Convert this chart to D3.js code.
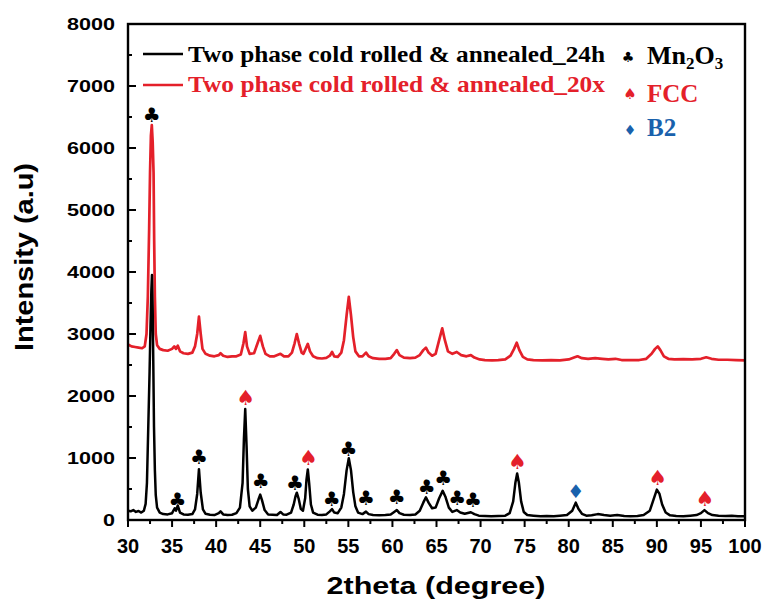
<!DOCTYPE html>
<html>
<head>
<meta charset="utf-8">
<script src="https://cdn.jsdelivr.net/npm/d3@7"></script>
<style>
  body { margin: 0; background: #fff; }
  svg { display: block; }
  .tick-y { font-family: "Liberation Sans", Arial, sans-serif; font-weight: bold; font-size: 17px; }
  .tick-x { font-family: "Liberation Sans", Arial, sans-serif; font-weight: bold; font-size: 20px; }
  .title { font-family: "Liberation Sans", Arial, sans-serif; font-weight: bold; }
  .leg { font-family: "Liberation Serif", "Times New Roman", serif; font-weight: bold; }
  .sym { font-family: "DejaVu Sans", sans-serif; }
</style>
</head>
<body>
<svg id="chart" width="765" height="608"></svg>
<script>
// XRD patterns, [2theta, intensity]
const pattern24h = [
  [30.0,150],[30.3,140],[30.6,160],[30.9,130],[31.2,145],[31.5,120],[31.8,150],[32.0,260],[32.15,600],[32.3,1500],
  [32.45,2400],[32.55,3100],[32.65,3700],[32.72,3950],[32.8,3400],[32.88,2400],[32.95,1500],[33.05,800],[33.15,400],[33.3,200],
  [33.6,120],[34.0,95],[34.5,90],[35.0,110],[35.3,190],[35.45,150],[35.65,230],[35.9,120],[36.3,90],[36.8,85],
  [37.3,95],[37.6,170],[37.85,420],[38.05,820],[38.25,440],[38.5,170],[38.8,100],[39.3,85],[39.8,80],[40.3,110],
  [40.5,140],[40.8,90],[41.3,80],[41.8,85],[42.3,110],[42.7,200],[43.0,600],[43.15,1300],[43.3,1790],[43.45,1200],
  [43.6,500],[43.8,220],[44.1,150],[44.5,200],[44.8,330],[45.0,410],[45.2,320],[45.5,160],[45.9,90],[46.4,85],
  [46.9,80],[47.3,130],[47.6,90],[48.0,85],[48.5,120],[48.8,250],[49.0,380],[49.15,440],[49.35,350],[49.6,180],
  [49.85,150],[50.1,350],[50.25,650],[50.4,815],[50.55,600],[50.75,250],[51.0,120],[51.5,85],[52.0,80],[52.5,90],
  [52.9,140],[53.15,175],[53.4,120],[53.8,110],[54.2,200],[54.5,420],[54.8,800],[55.05,995],[55.3,800],[55.55,450],
  [55.8,220],[56.1,120],[56.6,95],[57.0,135],[57.3,95],[57.8,80],[58.5,75],[59.2,80],[59.8,90],[60.2,130],
  [60.5,160],[60.8,110],[61.3,85],[62.0,80],[62.6,90],[63.1,150],[63.5,280],[63.8,366],[64.1,280],[64.5,190],
  [64.9,200],[65.3,350],[65.7,470],[66.0,380],[66.4,200],[66.8,130],[67.3,160],[67.7,120],[68.2,100],[68.9,125],
  [69.3,95],[69.8,70],[70.5,65],[71.2,60],[72.0,65],[72.8,70],[73.3,110],[73.7,300],[73.95,600],[74.15,750],
  [74.35,600],[74.6,300],[74.9,130],[75.3,80],[76.0,70],[76.8,60],[77.5,65],[78.3,60],[79.0,70],[79.8,80],
  [80.4,150],[80.8,280],[81.1,180],[81.5,100],[82.0,70],[82.6,75],[83.3,95],[84.0,80],[84.7,70],[85.5,80],
  [86.3,65],[87.0,60],[87.8,65],[88.5,80],[89.2,150],[89.6,320],[90.0,490],[90.3,420],[90.6,250],[91.0,120],
  [91.5,75],[92.2,65],[93.0,60],[93.8,70],[94.5,80],[95.0,110],[95.4,160],[95.8,110],[96.3,80],[97.0,70],
  [97.8,65],[98.5,70],[99.2,60],[100.0,60]
];

const pattern20x = [
  [30.0,2830],[30.4,2800],[30.8,2790],[31.2,2780],[31.6,2770],[31.9,2800],[32.1,3000],[32.25,3600],[32.4,4700],[32.5,5600],
  [32.6,6200],[32.7,6370],[32.8,6100],[32.9,5600],[32.97,4500],[33.05,3600],[33.15,3000],[33.3,2820],[33.6,2760],[34.0,2740],
  [34.5,2730],[35.0,2760],[35.25,2800],[35.45,2760],[35.65,2810],[35.9,2720],[36.3,2690],[36.8,2680],[37.3,2700],[37.6,2800],
  [37.85,3000],[38.05,3280],[38.25,3000],[38.45,2760],[38.8,2680],[39.3,2650],[39.8,2640],[40.3,2660],[40.5,2690],[40.8,2650],
  [41.3,2630],[41.8,2640],[42.3,2640],[42.8,2670],[43.1,2850],[43.3,3030],[43.5,2800],[43.8,2680],[44.3,2690],[44.7,2850],
  [45.0,2970],[45.3,2800],[45.6,2680],[46.1,2640],[46.6,2640],[47.3,2680],[47.7,2640],[48.2,2640],[48.6,2700],[48.9,2850],
  [49.15,3000],[49.4,2850],[49.7,2700],[49.9,2680],[50.15,2760],[50.4,2840],[50.65,2720],[51.0,2640],[51.5,2610],[52.0,2605],
  [52.5,2615],[52.9,2650],[53.15,2710],[53.4,2640],[53.8,2630],[54.2,2700],[54.5,2900],[54.8,3300],[55.05,3600],[55.3,3300],
  [55.55,2950],[55.8,2720],[56.2,2640],[56.6,2640],[57.0,2700],[57.3,2640],[57.8,2610],[58.5,2600],[59.2,2600],[59.8,2610],
  [60.2,2680],[60.5,2740],[60.8,2660],[61.3,2620],[62.0,2610],[62.6,2620],[63.1,2660],[63.5,2740],[63.8,2780],[64.1,2700],
  [64.5,2650],[64.9,2680],[65.3,2900],[65.65,3090],[65.95,2900],[66.3,2720],[66.8,2680],[67.3,2710],[67.8,2660],[68.4,2640],
  [68.9,2660],[69.3,2620],[69.9,2590],[70.5,2580],[71.3,2575],[72.0,2580],[72.8,2590],[73.4,2650],[73.8,2760],[74.1,2860],
  [74.4,2740],[74.8,2630],[75.3,2590],[76.0,2580],[77.0,2575],[78.0,2580],[79.0,2575],[80.0,2590],[80.6,2620],[81.0,2640],
  [81.5,2610],[82.2,2600],[83.0,2610],[83.8,2600],[84.5,2590],[85.3,2600],[86.0,2580],[87.0,2580],[88.0,2580],[88.8,2600],
  [89.4,2680],[89.8,2760],[90.1,2800],[90.4,2740],[90.8,2640],[91.3,2600],[92.0,2590],[93.0,2595],[94.0,2590],[95.0,2600],
  [95.6,2625],[96.2,2600],[97.0,2585],[98.0,2585],[99.0,2580],[100.0,2575]
];

// phase markers: [2theta, intensity where the symbol sits]
const mn2o3Marks = [
  [32.7,6530],[35.6,323],[38.06,1011],[45.06,634],[48.95,602],[53.11,334],[55.0,1140],
  [57.0,350],[60.49,376],[63.89,537],[65.75,673],[67.36,350],[69.15,323]
];
const fccMarks = [[43.35,1963],[50.46,995],[74.17,940],[90.1,673],[95.46,334]];
const b2Marks = [[80.79,473]];

const seriesNames = ["Two phase cold rolled & annealed_24h", "Two phase cold rolled & annealed_20x"];
const xTicks = d3.range(30, 101, 5);
const yTicks = d3.range(0, 8001, 1000);

const RED = "#e4202a";
const BLUE = "#1961ac";

const svg = d3.select("#chart");
const margin = { left: 128, right: 20, top: 24, bottom: 88 };
const W = 765, H = 608;

const x = d3.scaleLinear().domain([30, 100]).range([margin.left, W - margin.right]);
const y = d3.scaleLinear().domain([0, 8000]).range([H - margin.bottom, margin.top]);

const line = d3.line().x(d => x(d[0])).y(d => y(d[1]));

// curves
svg.append("path")
  .datum(pattern20x)
  .attr("d", line)
  .attr("fill", "none")
  .attr("stroke", RED)
  .attr("stroke-width", 2.7)
  .attr("stroke-linejoin", "round");

svg.append("path")
  .datum(pattern24h)
  .attr("d", line)
  .attr("fill", "none")
  .attr("stroke", "#000")
  .attr("stroke-width", 2.5)
  .attr("stroke-linejoin", "round");

// frame
svg.append("rect")
  .attr("x", x(30)).attr("y", y(8000))
  .attr("width", x(100) - x(30)).attr("height", y(0) - y(8000))
  .attr("fill", "none").attr("stroke", "#000").attr("stroke-width", 2.4);

// bottom axis: ticks outward, minor every 2.5
const xAxis = svg.append("g").attr("transform", `translate(0,${y(0)})`);
xAxis.selectAll("line.minor")
  .data(d3.range(32.5, 100, 5))
  .join("line")
  .attr("x1", d => x(d)).attr("x2", d => x(d))
  .attr("y1", 0).attr("y2", 4)
  .attr("stroke", "#000").attr("stroke-width", 2);
xAxis.selectAll("line.major")
  .data(xTicks)
  .join("line")
  .attr("x1", d => x(d)).attr("x2", d => x(d))
  .attr("y1", 0).attr("y2", 7)
  .attr("stroke", "#000").attr("stroke-width", 2);
xAxis.selectAll("text")
  .data(xTicks)
  .join("text")
  .attr("class", "tick-x")
  .attr("x", d => x(d))
  .attr("y", 33)
  .attr("text-anchor", "middle")
  .text(d => d);

// left axis: ticks inward, minor every 500
const yAxis = svg.append("g").attr("transform", `translate(${x(30)},0)`);
yAxis.selectAll("line.minor")
  .data(d3.range(500, 8000, 1000))
  .join("line")
  .attr("x1", 0).attr("x2", 4)
  .attr("y1", d => y(d)).attr("y2", d => y(d))
  .attr("stroke", "#000").attr("stroke-width", 2);
yAxis.selectAll("line.major")
  .data(yTicks)
  .join("line")
  .attr("x1", 0).attr("x2", 8)
  .attr("y1", d => y(d)).attr("y2", d => y(d))
  .attr("stroke", "#000").attr("stroke-width", 2);
yAxis.selectAll("text")
  .data(yTicks)
  .join("text")
  .attr("class", "tick-y")
  .attr("x", -13)
  .attr("y", d => y(d) + 6)
  .attr("text-anchor", "end")
  .attr("textLength", d => String(d).length * 12)
  .attr("lengthAdjust", "spacingAndGlyphs")
  .text(d => d);

// axis titles
svg.append("text")
  .attr("class", "title")
  .attr("x", 436).attr("y", 594)
  .attr("text-anchor", "middle")
  .attr("font-size", 24)
  .attr("textLength", 219)
  .attr("lengthAdjust", "spacingAndGlyphs")
  .text("2theta (degree)");

svg.append("text")
  .attr("class", "title")
  .attr("transform", "translate(33,257) rotate(-90)")
  .attr("text-anchor", "middle")
  .attr("font-size", 25)
  .attr("textLength", 188)
  .attr("lengthAdjust", "spacingAndGlyphs")
  .text("Intensity (a.u)");

// phase markers on the pattern
function marks(data, glyph, color, size) {
  svg.append("g").selectAll("text")
    .data(data)
    .join("text")
    .attr("class", "sym")
    .attr("x", d => x(d[0]))
    .attr("y", d => y(d[1]))
    .attr("text-anchor", "middle")
    .attr("dominant-baseline", "central")
    .attr("font-size", size)
    .attr("fill", color)
    .text(glyph);
}
marks(mn2o3Marks, "\u2663", "#000", 20);
marks(fccMarks, "\u2660", RED, 21);
marks(b2Marks, "\u2666", BLUE, 19);

// legend: series
const legendRows = [
  { name: seriesNames[0], color: "#000", ly: 54, ty: 62 },
  { name: seriesNames[1], color: RED, ly: 85, ty: 92 }
];
legendRows.forEach(r => {
  svg.append("line")
    .attr("x1", 143).attr("x2", 183)
    .attr("y1", r.ly).attr("y2", r.ly)
    .attr("stroke", r.color).attr("stroke-width", 2.5);
  svg.append("text")
    .attr("class", "leg")
    .attr("x", 188).attr("y", r.ty)
    .attr("font-size", 24)
    .attr("fill", r.color)
    .attr("textLength", 417)
    .attr("lengthAdjust", "spacingAndGlyphs")
    .text(r.name);
});

// legend: phases
const phaseLegend = svg.append("g");
phaseLegend.append("text").attr("class", "sym")
  .attr("x", 628).attr("y", 57).attr("text-anchor", "middle").attr("dominant-baseline", "central")
  .attr("font-size", 14).text("\u2663");
const mn = phaseLegend.append("text").attr("class", "leg")
  .attr("x", 647).attr("y", 64).attr("font-size", 26);
mn.append("tspan").text("Mn");
mn.append("tspan").attr("font-size", 17).attr("dy", 5).text("2");
mn.append("tspan").attr("dy", -5).text("O");
mn.append("tspan").attr("font-size", 17).attr("dy", 5).text("3");

phaseLegend.append("text").attr("class", "sym")
  .attr("x", 630).attr("y", 94).attr("text-anchor", "middle").attr("dominant-baseline", "central")
  .attr("font-size", 15).attr("fill", RED).text("\u2660");
phaseLegend.append("text").attr("class", "leg")
  .attr("x", 647).attr("y", 102).attr("font-size", 25).attr("fill", RED).text("FCC");

phaseLegend.append("text").attr("class", "sym")
  .attr("x", 630).attr("y", 130).attr("text-anchor", "middle").attr("dominant-baseline", "central")
  .attr("font-size", 14).attr("fill", BLUE).text("\u2666");
phaseLegend.append("text").attr("class", "leg")
  .attr("x", 647).attr("y", 136).attr("font-size", 25).attr("fill", BLUE).text("B2");
</script>
</body>
</html>
